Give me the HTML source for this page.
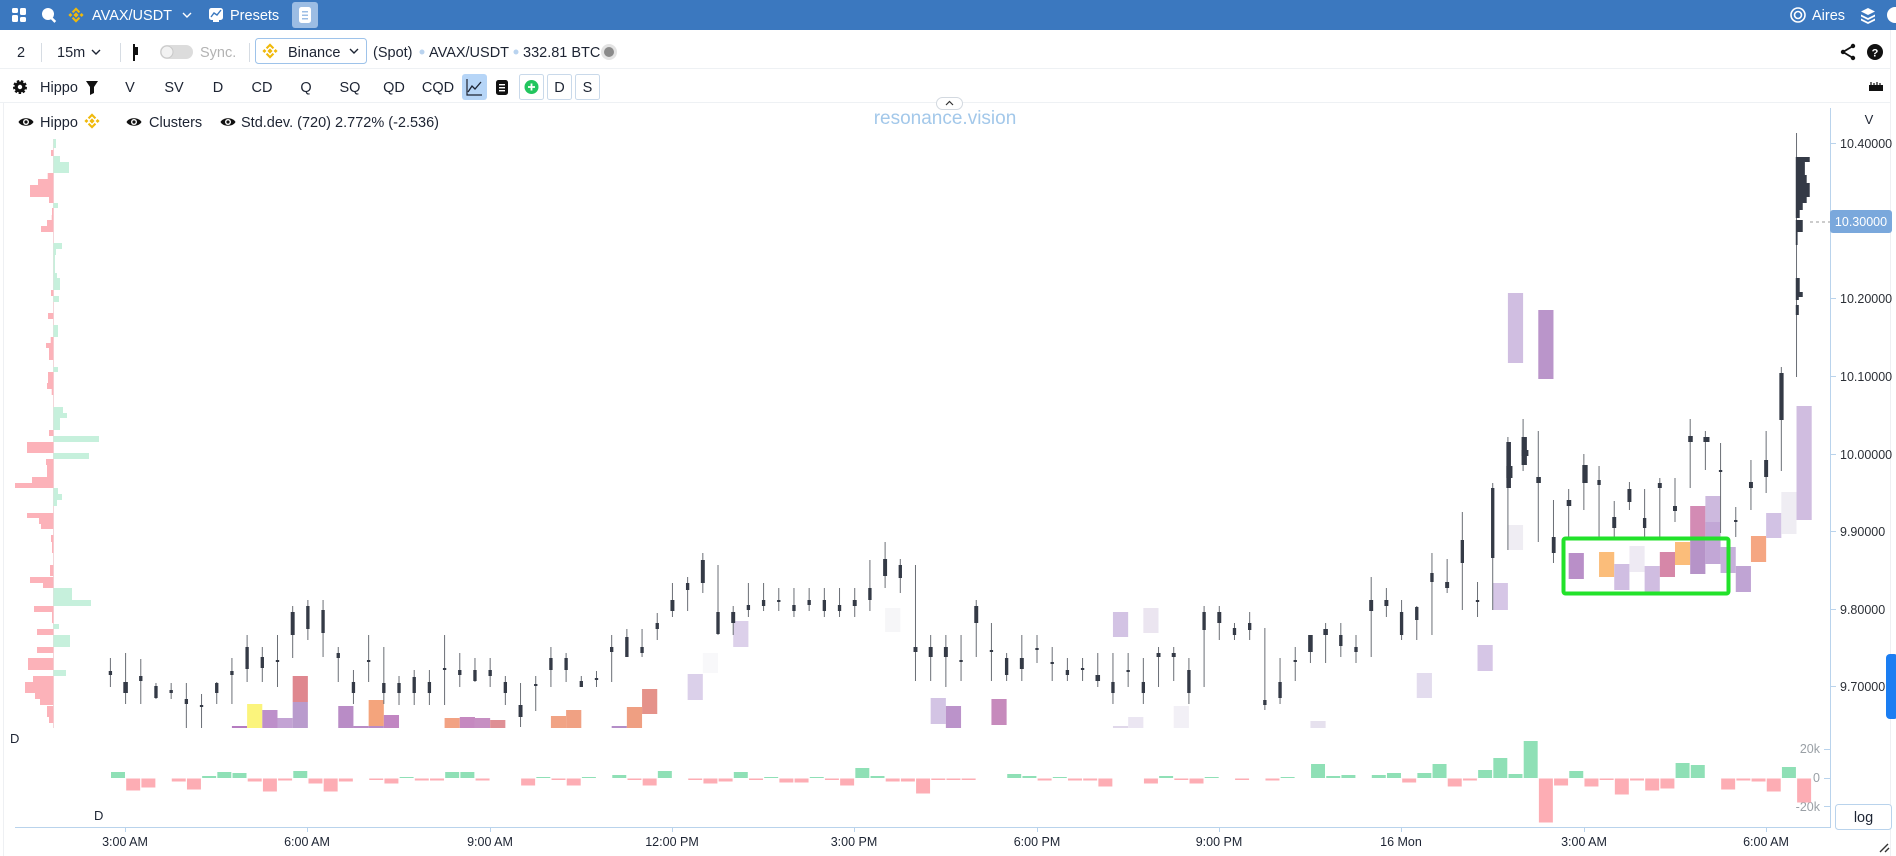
<!DOCTYPE html>
<html><head><meta charset="utf-8"><title>AVAX/USDT chart</title>
<style>
html,body{margin:0;padding:0;background:#fff;}
body{width:1896px;height:856px;overflow:hidden;position:relative;}
svg text{font-family:"Liberation Sans",sans-serif;}
</style></head>
<body>
<svg width="1896" height="856" viewBox="0 0 1896 856" xmlns="http://www.w3.org/2000/svg" style="position:absolute;left:0;top:0">
<defs>
<g id="bnb">
 <path d="M0-2.6L2.6 0 0 2.6-2.6 0Z"/>
 <path d="M0-7.6L4.2-3.4 2.7-1.9 0-4.6-2.7-1.9-4.2-3.4Z"/>
 <path d="M0 7.6L4.2 3.4 2.7 1.9 0 4.6-2.7 1.9-4.2 3.4Z"/>
 <path d="M-7.6 0L-5.6-2-3.6 0-5.6 2Z"/>
 <path d="M7.6 0L5.6-2 3.6 0 5.6 2Z"/>
</g>
<g id="eye">
 <path d="M-7.5 0C-5-5 5-5 7.5 0C5 5-5 5-7.5 0Z" fill="#111"/>
 <circle r="3" fill="#fff"/><circle r="1.6" fill="#111"/>
</g>
</defs>

<!-- top bar -->
<rect x="0" y="0" width="1896" height="30" fill="#3b78bf"/>
<g fill="#fff">
 <rect x="12" y="8" width="6" height="5" rx="1.5"/><rect x="20" y="8" width="6" height="7" rx="1.5"/>
 <rect x="12" y="15" width="6" height="7" rx="1.5"/><rect x="20" y="17" width="6" height="5" rx="1.5"/>
 <circle cx="48" cy="14" r="6"/><rect x="52" y="18" width="2.5" height="5" transform="rotate(-45 53 20)"/>
</g>
<use href="#bnb" x="76" y="15" fill="#f0b90b"/>
<text x="92" y="20" font-size="14.5" fill="#fff">AVAX/USDT</text>
<path d="M183 13L187 17 191 13" stroke="#fff" stroke-width="1.4" fill="none"/>
<rect x="209" y="8" width="14" height="12" rx="2.5" fill="#fff"/>
<path d="M211 17L214 13 217 15 221 10" stroke="#3b78bf" stroke-width="1.4" fill="none"/>
<rect x="213" y="20" width="6" height="2" fill="#fff"/>
<text x="230" y="20" font-size="14.5" fill="#fff">Presets</text>
<rect x="292" y="2" width="26" height="26" rx="3" fill="#9cbde4"/>
<rect x="299" y="7" width="12" height="16" rx="2.5" fill="#fff"/>
<rect x="302" y="11" width="6" height="1.5" fill="#9cbde4"/><rect x="302" y="14.5" width="6" height="1.5" fill="#9cbde4"/><rect x="302" y="18" width="6" height="1.5" fill="#9cbde4"/>
<circle cx="1798" cy="15" r="7" fill="none" stroke="#fff" stroke-width="1.6"/>
<circle cx="1798" cy="15" r="3.5" fill="none" stroke="#fff" stroke-width="1.6"/>
<text x="1812" y="20" font-size="14.5" fill="#fff">Aires</text>
<g fill="#fff"><path d="M1868 8L1875 11.5 1868 15 1861 11.5Z"/><path d="M1861 14.5L1868 18 1875 14.5 1875 16.5 1868 20 1861 16.5Z"/><path d="M1861 18.5L1868 22 1875 18.5 1875 20.5 1868 24 1861 20.5Z"/></g>
<circle cx="1895" cy="15" r="8" fill="#fff"/>

<!-- row 2 -->
<text x="17" y="57" font-size="14.5" fill="#1d2433">2</text>
<rect x="41" y="43" width="1" height="19" fill="#d6dce3"/>
<text x="57" y="57" font-size="14.5" fill="#1d2433">15m</text>
<path d="M92 50L96 54 100 50" stroke="#1d2433" stroke-width="1.4" fill="none"/>
<rect x="120" y="43" width="1" height="19" fill="#d6dce3"/>
<rect x="133" y="44" width="2" height="17" fill="#111"/><rect x="133" y="47" width="5" height="8" fill="#111"/>
<rect x="160" y="45" width="33" height="14" rx="7" fill="#dcdcdc"/>
<circle cx="167" cy="52" r="6" fill="#f2f2f2" stroke="#c8c8c8"/>
<text x="200" y="57" font-size="14.5" fill="#b3b3b3">Sync.</text>
<rect x="249" y="43" width="1" height="19" fill="#d6dce3"/>
<rect x="255.5" y="38.5" width="111" height="25" rx="3" fill="#fff" stroke="#9ec3ea"/>
<use href="#bnb" x="270" y="51" fill="#f0b90b"/>
<text x="288" y="57" font-size="14.5" fill="#1d2433">Binance</text>
<path d="M350 49L354 53 358 49" stroke="#1d2433" stroke-width="1.4" fill="none"/>
<text x="373" y="57" font-size="14.5" fill="#1d2433">(Spot)</text>
<circle cx="422" cy="52" r="2.5" fill="#b9d3ef"/>
<text x="429" y="57" font-size="14.5" fill="#1d2433">AVAX/USDT</text>
<circle cx="516" cy="52" r="2.5" fill="#b9d3ef"/>
<text x="523" y="57" font-size="14.5" fill="#1d2433">332.81 BTC</text>
<circle cx="609" cy="52" r="8" fill="#e3e3e3"/><circle cx="609" cy="52" r="5" fill="#8a8a8a"/>
<g stroke="#111" stroke-width="1.8"><path d="M1853 46L1843 52 1853 58" fill="none"/></g>
<g fill="#111"><circle cx="1853" cy="46" r="2.2"/><circle cx="1843" cy="52" r="2.2"/><circle cx="1853" cy="58" r="2.2"/></g>
<circle cx="1875" cy="52" r="8" fill="#111"/>
<text x="1875" y="56.5" font-size="11" font-weight="bold" fill="#fff" text-anchor="middle">?</text>
<rect x="0" y="68" width="1891" height="1" fill="#eef1f4"/>

<!-- row 3 -->
<circle cx="20" cy="87" r="5.5" fill="#111" stroke="#111" stroke-width="3" stroke-dasharray="2.2 1.6"/>
<circle cx="20" cy="87" r="2.2" fill="#fff"/>
<text x="40" y="92" font-size="14.5" fill="#1d2433">Hippo</text>
<path d="M86 81H98L94 87V93L90 95V87Z" fill="#111"/>
<g font-size="14.5" fill="#1d2433" text-anchor="middle">
<text x="130" y="92">V</text><text x="174" y="92">SV</text><text x="218" y="92">D</text><text x="262" y="92">CD</text>
<text x="306" y="92">Q</text><text x="350" y="92">SQ</text><text x="394" y="92">QD</text><text x="438" y="92">CQD</text>
</g>
<rect x="462" y="74" width="25" height="26" rx="3" fill="#b6d5f7"/>
<path d="M467 79V95H482" stroke="#1d2433" stroke-width="1.2" fill="none"/>
<path d="M468 92L472 86 475 89 481 82" stroke="#1d2433" stroke-width="1.3" fill="none"/>
<rect x="496" y="80" width="12" height="15" rx="2.5" fill="#111"/>
<rect x="499" y="84" width="6" height="1.4" fill="#fff"/><rect x="499" y="87" width="6" height="1.4" fill="#fff"/><rect x="499" y="90" width="6" height="1.4" fill="#fff"/>
<rect x="519.5" y="74.5" width="24" height="25" rx="2" fill="#fff" stroke="#c9d9ea"/>
<circle cx="531.5" cy="87" r="7" fill="#22c55e"/>
<path d="M531.5 83.5V90.5M528 87H535" stroke="#fff" stroke-width="1.8"/>
<rect x="547.5" y="74.5" width="24" height="25" rx="2" fill="#fff" stroke="#c9d9ea"/>
<text x="559.5" y="92" font-size="14.5" fill="#1d2433" text-anchor="middle">D</text>
<rect x="575.5" y="74.5" width="24" height="25" rx="2" fill="#fff" stroke="#c9d9ea"/>
<text x="587.5" y="92" font-size="14.5" fill="#1d2433" text-anchor="middle">S</text>
<path d="M1869 85H1883V91H1869Z" fill="#111"/><path d="M1871 82V85M1874 83V85M1877 82V85M1880 83V85" stroke="#111" stroke-width="1.2"/>
<rect x="0" y="102" width="1891" height="1" fill="#eef1f4"/>
<rect x="3" y="103" width="1" height="753" fill="#eef0f3"/>
<rect x="1890" y="30" width="1" height="826" fill="#eef0f3"/>

<!-- legend -->
<use href="#eye" x="26" y="122"/>
<text x="40" y="127" font-size="14.5" fill="#1d2433">Hippo</text>
<use href="#bnb" x="92" y="121" fill="#f0b90b"/>
<use href="#eye" x="134" y="122"/>
<text x="149" y="127" font-size="14.5" fill="#1d2433">Clusters</text>
<use href="#eye" x="228" y="122"/>
<text x="241" y="127" font-size="14.5" fill="#1d2433">Std.dev. (720) 2.772% (-2.536)</text>

<!-- watermark + collapse pill -->
<text x="945" y="124" font-size="19" fill="#a3c8ea" text-anchor="middle">resonance.vision</text>
<rect x="936.5" y="97.5" width="26" height="12" rx="6" fill="#fff" stroke="#d3d9e0"/>
<path d="M946 105L949.5 101.5 953 105" stroke="#333" stroke-width="1.2" fill="none"/>

<!-- axes -->
<rect x="1830" y="108" width="1" height="720" fill="#b9d3ec"/>
<rect x="15" y="827" width="1816" height="1" fill="#b9d3ec"/>
<text x="1869" y="124" font-size="13" fill="#1d2433" text-anchor="middle">V</text>
<g fill="#b9d3ec">
<rect x="1830" y="143" width="6" height="1"/><rect x="1830" y="298" width="6" height="1"/><rect x="1830" y="376" width="6" height="1"/>
<rect x="1830" y="454" width="6" height="1"/><rect x="1830" y="531" width="6" height="1"/><rect x="1830" y="609" width="6" height="1"/><rect x="1830" y="686" width="6" height="1"/>
<rect x="1824" y="749" width="6" height="1"/><rect x="1824" y="778" width="6" height="1"/><rect x="1824" y="806" width="6" height="1"/>
</g>
<g font-size="12.5" fill="#2b2f36">
<text x="1840" y="148">10.40000</text>
<text x="1840" y="303">10.20000</text>
<text x="1840" y="381">10.10000</text>
<text x="1840" y="459">10.00000</text>
<text x="1840" y="536">9.90000</text>
<text x="1840" y="614">9.80000</text>
<text x="1840" y="691">9.70000</text>
</g>
<path d="M1810 222H1830" stroke="#999" stroke-dasharray="3 3"/>
<rect x="1830" y="210" width="62" height="23" rx="3" fill="#7aa8dc"/>
<text x="1861" y="226" font-size="12.5" fill="#fff" text-anchor="middle">10.30000</text>
<g font-size="12.5" fill="#9aa0a6" text-anchor="end">
<text x="1820" y="753">20k</text><text x="1820" y="782">0</text><text x="1820" y="811">-20k</text>
</g>
<rect x="1835.5" y="804.5" width="56" height="25" rx="3" fill="#fff" stroke="#b9d3ec"/>
<text x="1863.5" y="822" font-size="14.5" fill="#1d2433" text-anchor="middle">log</text>
<rect x="1886" y="654" width="12" height="65" rx="4" fill="#1b7ef2"/>
<path d="M1880 852L1888 844M1885 852L1889 848" stroke="#333" stroke-width="1.4"/>
<g fill="#b9d3ec">
<rect x="125" y="827" width="1" height="5"/><rect x="307" y="827" width="1" height="5"/><rect x="490" y="827" width="1" height="5"/>
<rect x="672" y="827" width="1" height="5"/><rect x="854" y="827" width="1" height="5"/><rect x="1037" y="827" width="1" height="5"/>
<rect x="1219" y="827" width="1" height="5"/><rect x="1401" y="827" width="1" height="5"/><rect x="1584" y="827" width="1" height="5"/><rect x="1766" y="827" width="1" height="5"/>
</g>
<g font-size="12.5" fill="#1d2433" text-anchor="middle">
<text x="125" y="846">3:00 AM</text><text x="307" y="846">6:00 AM</text><text x="490" y="846">9:00 AM</text>
<text x="672" y="846">12:00 PM</text><text x="854" y="846">3:00 PM</text><text x="1037" y="846">6:00 PM</text>
<text x="1219" y="846">9:00 PM</text><text x="1401" y="846">16 Mon</text><text x="1584" y="846">3:00 AM</text><text x="1766" y="846">6:00 AM</text>
</g>
<text x="10" y="743" font-size="13" fill="#1d2433">D</text>
<text x="94" y="820" font-size="13" fill="#1d2433">D</text>

<!-- left profile -->
<rect x="53" y="139" width="1" height="589" fill="#f3d6da"/>
<g fill="#fcb2b9">
<rect x="51" y="150" width="2.3" height="6"/><rect x="47.7" y="173" width="5.6" height="6"/><rect x="38" y="179" width="15.3" height="6"/>
<rect x="30" y="185" width="23.3" height="12"/><rect x="49" y="197" width="4.3" height="6"/><rect x="52" y="208" width="1.3" height="7"/>
<rect x="51.7" y="215" width="1.6" height="5"/><rect x="47" y="220" width="6.3" height="6"/><rect x="41" y="226" width="12.3" height="6"/>
<rect x="51" y="290" width="2.3" height="6"/><rect x="48" y="313" width="5.3" height="6"/><rect x="50.7" y="337" width="2.6" height="6"/>
<rect x="46" y="343" width="7.3" height="5"/><rect x="49" y="348" width="4.3" height="12"/><rect x="48" y="372" width="5.3" height="11"/>
<rect x="47" y="383" width="6.3" height="6"/><rect x="51.7" y="389" width="1.6" height="6"/><rect x="49" y="430" width="4.3" height="6"/>
<rect x="27" y="442" width="26.3" height="11"/><rect x="46" y="459" width="7.3" height="6"/><rect x="47" y="465" width="6.3" height="12"/>
<rect x="32" y="477" width="21.3" height="6"/><rect x="15" y="483" width="38.3" height="5"/><rect x="27" y="513" width="26.3" height="5"/>
<rect x="39" y="518" width="14.3" height="6"/><rect x="41" y="524" width="12.3" height="5"/><rect x="51" y="535" width="2.3" height="7"/>
<rect x="52" y="542" width="1.3" height="11"/><rect x="50" y="565" width="3.3" height="11"/><rect x="30" y="577" width="23.3" height="6"/>
<rect x="43" y="583" width="10.3" height="5"/><rect x="34" y="606" width="19.3" height="6"/><rect x="52" y="612" width="1.3" height="11"/>
<rect x="37" y="629" width="16.3" height="6"/><rect x="37" y="647" width="16.3" height="6"/><rect x="28" y="658" width="25.3" height="12"/>
<rect x="33" y="676" width="20.3" height="6"/><rect x="25" y="682" width="28.3" height="11"/><rect x="35" y="693" width="18.3" height="6"/>
<rect x="40" y="699" width="13.3" height="6"/><rect x="47" y="706" width="6.3" height="11"/><rect x="49" y="717" width="4.3" height="6"/>
</g>
<g fill="#c6f0dc">
<rect x="53.3" y="139" width="2.7" height="9"/><rect x="53.3" y="156" width="6.7" height="6"/><rect x="53.3" y="162" width="15.7" height="11"/>
<rect x="53.3" y="203" width="4.7" height="5"/><rect x="53.3" y="243" width="8.7" height="6"/><rect x="53.3" y="249" width="2.7" height="6"/>
<rect x="53.3" y="255" width="1.7" height="18"/><rect x="53.3" y="273" width="3.7" height="5"/><rect x="53.3" y="278" width="6.7" height="12"/>
<rect x="53.3" y="296" width="5.7" height="6"/><rect x="53.3" y="325" width="4.7" height="12"/><rect x="53.3" y="367" width="4.7" height="5"/>
<rect x="53.3" y="407" width="9.7" height="6"/><rect x="53.3" y="413" width="13.7" height="5"/><rect x="53.3" y="418" width="6.7" height="12"/>
<rect x="53.3" y="436" width="45.7" height="6"/><rect x="53.3" y="453" width="35.7" height="6"/><rect x="53.3" y="488" width="4.7" height="6"/>
<rect x="53.3" y="494" width="8.7" height="6"/><rect x="53.3" y="500" width="3.7" height="6"/><rect x="53.3" y="588" width="18.7" height="12"/>
<rect x="53.3" y="600" width="37.7" height="6"/><rect x="53.3" y="624" width="5.7" height="5"/><rect x="53.3" y="635" width="16.7" height="12"/>
<rect x="53.3" y="670" width="12.7" height="6"/>
</g>

<!-- chart (x unit = one 15m bar) -->
<svg x="110.4" y="0" width="1716.5" height="856" viewBox="0 0 113 856" preserveAspectRatio="none" overflow="visible">
<!-- clusters -->
<rect x="8" y="726" width="1" height="2" fill="#b57cc0"/>
<rect x="9" y="704" width="1" height="24" fill="#fbf47c"/>
<rect x="10" y="710" width="1" height="18" fill="#bd8fca"/>
<rect x="11" y="718" width="1" height="10" fill="#c3a3d4"/>
<rect x="12" y="676" width="1" height="26" fill="#df878f"/><rect x="12" y="702" width="1" height="26" fill="#b99bcd"/>
<rect x="15" y="706" width="1" height="22" fill="#b98cc6"/>
<rect x="16" y="726" width="1" height="2" fill="#b98cc6"/>
<rect x="17" y="700" width="1" height="26" fill="#f4a47c"/><rect x="17" y="726" width="1" height="2" fill="#b98cc6"/>
<rect x="18" y="715" width="1" height="13" fill="#c186c2"/>
<rect x="22" y="718" width="1" height="10" fill="#f2a283"/>
<rect x="23" y="717" width="1" height="11" fill="#c589c0"/>
<rect x="24" y="718" width="1" height="10" fill="#c68fc2"/>
<rect x="25" y="720" width="1" height="8" fill="#df8f95"/>
<rect x="29" y="716" width="1" height="12" fill="#f1a384"/>
<rect x="30" y="710" width="1" height="18" fill="#f0a183"/>
<rect x="33" y="726" width="1" height="2" fill="#b48ec8"/>
<rect x="34" y="707" width="1" height="21" fill="#ef9f82"/>
<rect x="35" y="689" width="1" height="25" fill="#e5928a"/>
<rect x="38" y="674" width="1" height="26" fill="#dbd0ea"/>
<rect x="39" y="653" width="1" height="20" fill="#f8f8fa"/>
<rect x="41" y="621" width="1" height="26" fill="#dcd0ea"/>
<rect x="51" y="608" width="1" height="24" fill="#f6f6f8"/>
<rect x="54" y="698" width="1" height="26" fill="#d3c4e4"/>
<rect x="55" y="706" width="1" height="22" fill="#bb93ca"/>
<rect x="58" y="699" width="1" height="26" fill="#c68abc"/>
<rect x="66" y="612" width="1" height="25" fill="#d3c3e4"/><rect x="66" y="726" width="1" height="2" fill="#e0d8ea"/>
<rect x="67" y="717" width="1" height="11" fill="#ebe6f2"/>
<rect x="68" y="608" width="1" height="25" fill="#ebe5f0"/>
<rect x="70" y="706" width="1" height="22" fill="#f2f0f6"/>
<rect x="79" y="721" width="1" height="7" fill="#e6e1ee"/>
<rect x="86" y="673" width="1" height="25" fill="#e3dcee"/>
<rect x="90" y="645" width="1" height="26" fill="#d6c6e6"/>
<rect x="91" y="583" width="1" height="27" fill="#d6c6e6"/>
<rect x="92" y="293" width="1" height="70" fill="#d0bee1"/><rect x="92" y="525" width="1" height="25" fill="#efedf3"/>
<rect x="94" y="310" width="1" height="69" fill="#ba95ca"/>
<rect x="96" y="553" width="1" height="26" fill="#b98fc8"/>
<rect x="98" y="552" width="1" height="25" fill="#fbbd7a"/>
<rect x="99" y="564" width="1" height="26" fill="#d0bee2"/>
<rect x="100" y="546" width="1" height="26" fill="#eeeaf3"/>
<rect x="101" y="566" width="1" height="26" fill="#d0bde1"/>
<rect x="102" y="552" width="1" height="25" fill="#d687a8"/>
<rect x="103" y="542" width="1" height="23" fill="#fbbd7a"/>
<rect x="104" y="506" width="1" height="32" fill="#d38bb4"/><rect x="104" y="538" width="1" height="36" fill="#b693c8"/>
<rect x="105" y="496" width="1" height="26" fill="#cdb9de"/><rect x="105" y="522" width="1" height="42" fill="#c2a7d6"/>
<rect x="106" y="547" width="1" height="26" fill="#c6b0da"/>
<rect x="107" y="566" width="1" height="26" fill="#c0a4d4"/>
<rect x="108" y="536" width="1" height="26" fill="#f5a682"/>
<rect x="109" y="513" width="1" height="25" fill="#d2c2e4"/>
<rect x="110" y="492" width="1" height="42" fill="#efedf3"/>
<rect x="111" y="406" width="1" height="114" fill="#d0bde0"/>

<!-- wicks -->
<path stroke="#6b6f76" stroke-width="1" vector-effect="non-scaling-stroke" fill="none" d="
M0 658V687M1 653V704M2 659V704M3 683V699M4 683V699M5 683V728M6 694V728M7 682V704M8 658V704M9 635V682
M10 647V682M11 635V687M12 606V658M13 600V640M14 600V657M15 647V682M16 670V704M17 635V682M18 647V704M19 676V705
M20 670V705M21 670V705M22 635V705M23 653V687M24 658V682M25 658V687M26 676V705M27 683V727M28 676V711M29 647V687
M30 653V682M31 676V687M32 671V687M33 635V682M34 629V657M35 629V657M36 613V640M37 583V617M38 577V611M39 553V593
M40 565V635M41 606V635M42 583V617M43 583V611M44 588V611M45 588V617M46 588V611M47 588V617M48 588V617M49 588V617
M50 560V611M51 542V588M52 559V593M53 565V681M54 635V681M55 635V687M56 635V681M57 600V657M58 623V681M59 653V681
M60 635V681M61 635V663M62 647V681M63 658V681M64 658V681M65 653V687M66 653V704M67 653V687M68 658V704M69 647V687
M70 647V681M71 658V704M72 606V687M73 606V640M74 623V640M75 612V640M76 628V710M77 658V704M78 647V681M79 635V663
M80 623V663M81 623V657M82 635V663M83 577V657M84 588V617M85 600V640M86 606V640M87 553V635M88 559V593M89 512V610
M90 582V617M91 483V610M92 437V550M93 419V471M94 431V542M95 500V563M96 489V537M97 454V510M98 466V537M99 501V537
M100 482V510M101 489V537M102 478V537M103 478V522M104 419V488M105 431V470M106 443V533M107 507V537M108 460V510M109 431V493
M110 367V471M111 133V377"/>

<!-- bodies -->
<g fill="#343a46">
<rect x="-0.11" y="671" width="0.22" height="4"/><rect x="0.85" y="682" width="0.3" height="11"/><rect x="1.89" y="676" width="0.22" height="5"/>
<rect x="2.89" y="686" width="0.22" height="12"/><rect x="3.89" y="690" width="0.22" height="3"/><rect x="4.89" y="699" width="0.22" height="5"/>
<rect x="5.89" y="705" width="0.22" height="2"/><rect x="6.89" y="683" width="0.22" height="10"/><rect x="7.89" y="671" width="0.22" height="4"/>
<rect x="8.89" y="647" width="0.22" height="22"/><rect x="9.89" y="657" width="0.22" height="11"/><rect x="10.89" y="660" width="0.22" height="2"/>
<rect x="11.87" y="612" width="0.26" height="23"/><rect x="12.89" y="606" width="0.22" height="23"/><rect x="13.89" y="610" width="0.22" height="23"/>
<rect x="14.89" y="653" width="0.22" height="5"/><rect x="15.89" y="682" width="0.22" height="11"/><rect x="16.89" y="660" width="0.22" height="2"/>
<rect x="17.89" y="683" width="0.22" height="10"/><rect x="18.89" y="683" width="0.22" height="10"/><rect x="19.89" y="677" width="0.22" height="16"/>
<rect x="20.89" y="682" width="0.22" height="11"/><rect x="21.89" y="668" width="0.22" height="2"/><rect x="22.89" y="670" width="0.22" height="5"/>
<rect x="23.89" y="670" width="0.22" height="11"/><rect x="24.89" y="670" width="0.22" height="6"/><rect x="25.89" y="682" width="0.22" height="11"/>
<rect x="26.87" y="705" width="0.26" height="12"/><rect x="27.89" y="684" width="0.22" height="2"/><rect x="28.89" y="658" width="0.22" height="12"/>
<rect x="29.89" y="658" width="0.22" height="12"/><rect x="30.89" y="681" width="0.22" height="6"/><rect x="31.89" y="678" width="0.22" height="2"/>
<rect x="32.89" y="647" width="0.22" height="5"/><rect x="33.89" y="637" width="0.22" height="20"/><rect x="34.89" y="647" width="0.22" height="6"/>
<rect x="35.89" y="623" width="0.22" height="6"/><rect x="36.87" y="600" width="0.26" height="11"/><rect x="37.89" y="583" width="0.22" height="7"/>
<rect x="38.87" y="560" width="0.26" height="23"/><rect x="39.89" y="612" width="0.22" height="22"/><rect x="40.87" y="612" width="0.26" height="11"/>
<rect x="41.89" y="605" width="0.22" height="5"/><rect x="42.89" y="600" width="0.22" height="6"/><rect x="43.89" y="600" width="0.22" height="2"/>
<rect x="44.89" y="605" width="0.22" height="6"/><rect x="45.89" y="600" width="0.22" height="5"/><rect x="46.89" y="600" width="0.22" height="11"/>
<rect x="47.89" y="605" width="0.22" height="6"/><rect x="48.87" y="600" width="0.26" height="6"/><rect x="49.89" y="588" width="0.22" height="12"/>
<rect x="50.87" y="559" width="0.26" height="17"/><rect x="51.89" y="565" width="0.22" height="13"/><rect x="52.87" y="647" width="0.26" height="5"/>
<rect x="53.87" y="647" width="0.26" height="10"/><rect x="54.87" y="647" width="0.26" height="10"/><rect x="55.89" y="660" width="0.22" height="2"/>
<rect x="56.87" y="606" width="0.26" height="17"/><rect x="57.89" y="650" width="0.22" height="2"/><rect x="58.89" y="658" width="0.22" height="17"/>
<rect x="59.87" y="658" width="0.26" height="11"/><rect x="60.89" y="648" width="0.22" height="2"/><rect x="61.89" y="662" width="0.22" height="2"/>
<rect x="62.89" y="670" width="0.22" height="5"/><rect x="63.89" y="668" width="0.22" height="2"/><rect x="64.85" y="675" width="0.3" height="6"/>
<rect x="65.89" y="682" width="0.22" height="11"/><rect x="66.89" y="670" width="0.22" height="2"/><rect x="67.89" y="682" width="0.22" height="11"/>
<rect x="68.87" y="653" width="0.26" height="4"/><rect x="69.87" y="653" width="0.26" height="4"/><rect x="70.89" y="670" width="0.22" height="23"/>
<rect x="71.89" y="612" width="0.22" height="18"/><rect x="72.87" y="612" width="0.26" height="11"/><rect x="73.89" y="628" width="0.22" height="7"/>
<rect x="74.89" y="623" width="0.22" height="7"/><rect x="75.89" y="700" width="0.22" height="5"/><rect x="76.89" y="682" width="0.22" height="16"/>
<rect x="77.89" y="660" width="0.22" height="2"/><rect x="78.85" y="635" width="0.3" height="17"/><rect x="79.85" y="629" width="0.3" height="6"/>
<rect x="80.89" y="635" width="0.22" height="11"/><rect x="81.89" y="647" width="0.22" height="5"/><rect x="82.87" y="600" width="0.26" height="11"/>
<rect x="83.87" y="600" width="0.26" height="6"/><rect x="84.89" y="612" width="0.22" height="23"/><rect x="85.89" y="607" width="0.22" height="13"/>
<rect x="86.89" y="573" width="0.22" height="9"/><rect x="87.87" y="582" width="0.26" height="6"/><rect x="88.89" y="540" width="0.22" height="23"/>
<rect x="89.89" y="600" width="0.22" height="2"/><rect x="90.89" y="488" width="0.22" height="70"/>
<rect x="91.9" y="442" width="0.3" height="46"/><rect x="91.9" y="466" width="0.4" height="12"/>
<rect x="92.9" y="437" width="0.35" height="28"/><rect x="92.9" y="450" width="0.45" height="6"/>
<rect x="93.87" y="477" width="0.3" height="6"/><rect x="94.89" y="537" width="0.25" height="16"/><rect x="95.87" y="500" width="0.3" height="6"/>
<rect x="96.9" y="465" width="0.35" height="18"/><rect x="97.89" y="480" width="0.22" height="5"/><rect x="98.87" y="517" width="0.26" height="11"/>
<rect x="99.87" y="489" width="0.26" height="13"/><rect x="100.89" y="518" width="0.22" height="10"/><rect x="101.87" y="483" width="0.26" height="5"/>
<rect x="102.87" y="506" width="0.26" height="5"/><rect x="103.87" y="436" width="0.3" height="6"/><rect x="104.87" y="437" width="0.4" height="5"/>
<rect x="105.89" y="470" width="0.22" height="2"/><rect x="106.89" y="520" width="0.22" height="2"/><rect x="107.87" y="482" width="0.26" height="6"/>
<rect x="108.87" y="460" width="0.26" height="17"/><rect x="109.87" y="373" width="0.28" height="47"/>
<rect x="110.95" y="157" width="0.92" height="5"/><rect x="110.95" y="162" width="0.6" height="13"/><rect x="110.95" y="175" width="0.72" height="8"/>
<rect x="110.95" y="183" width="0.92" height="14"/><rect x="110.95" y="197" width="0.72" height="6"/><rect x="110.95" y="203" width="0.46" height="7"/>
<rect x="110.95" y="210" width="0.26" height="8"/><rect x="110.95" y="220" width="0.46" height="12"/><rect x="110.95" y="232" width="0.12" height="13"/>
<rect x="110.95" y="278" width="0.26" height="14"/><rect x="110.95" y="292" width="0.46" height="5"/><rect x="110.95" y="297" width="0.2" height="3"/>
<rect x="110.95" y="305" width="0.2" height="10"/>
</g>

<!-- lower pane -->
<g fill="#8fe0b6">
<rect x="0.04" y="772" width="0.92" height="6"/><rect x="6.04" y="776" width="0.92" height="2"/><rect x="7.04" y="772" width="0.92" height="6"/>
<rect x="8.04" y="773" width="0.92" height="5"/><rect x="12.04" y="771" width="0.92" height="7"/><rect x="19.04" y="777" width="0.92" height="1"/>
<rect x="22.04" y="772" width="0.92" height="6"/><rect x="23.04" y="772" width="0.92" height="6"/><rect x="28.04" y="777" width="0.92" height="1"/>
<rect x="31.04" y="777" width="0.92" height="1"/><rect x="33.04" y="775" width="0.92" height="3"/><rect x="36.04" y="771" width="0.92" height="7"/>
<rect x="41.04" y="772" width="0.92" height="6"/><rect x="43.04" y="777" width="0.92" height="1"/><rect x="46.04" y="777" width="0.92" height="1"/>
<rect x="49.04" y="768" width="0.92" height="10"/><rect x="50.04" y="776" width="0.92" height="2"/><rect x="59.04" y="774" width="0.92" height="4"/>
<rect x="60.04" y="776" width="0.92" height="2"/><rect x="62.04" y="777" width="0.92" height="1"/><rect x="69.04" y="776" width="0.92" height="2"/>
<rect x="72.04" y="777" width="0.92" height="1"/><rect x="77.04" y="777" width="0.92" height="1"/><rect x="79.04" y="764" width="0.92" height="14"/>
<rect x="80.04" y="776" width="0.92" height="2"/><rect x="81.04" y="775" width="0.92" height="3"/><rect x="83.04" y="775" width="0.92" height="3"/>
<rect x="84.04" y="773" width="0.92" height="5"/><rect x="86.04" y="773" width="0.92" height="5"/><rect x="87.04" y="764" width="0.92" height="14"/>
<rect x="90.04" y="770" width="0.92" height="8"/><rect x="91.04" y="758" width="0.92" height="20"/><rect x="92.04" y="774" width="0.92" height="4"/>
<rect x="93.04" y="741" width="0.92" height="37"/><rect x="96.04" y="771" width="0.92" height="7"/><rect x="103.04" y="763" width="0.92" height="15"/>
<rect x="104.04" y="765" width="0.92" height="13"/><rect x="110.04" y="767" width="0.92" height="11"/>
</g>
<g fill="#fdadb4">
<rect x="1.04" y="778.5" width="0.92" height="12"/><rect x="2.04" y="778.5" width="0.92" height="9"/><rect x="4.04" y="778.5" width="0.92" height="3"/>
<rect x="5.04" y="778.5" width="0.92" height="11"/><rect x="9.04" y="778.5" width="0.92" height="3"/><rect x="10.04" y="778.5" width="0.92" height="13"/>
<rect x="11.04" y="778.5" width="0.92" height="2"/><rect x="13.04" y="778.5" width="0.92" height="5"/><rect x="14.04" y="778.5" width="0.92" height="13"/>
<rect x="15.04" y="778.5" width="0.92" height="3"/><rect x="17.04" y="778.5" width="0.92" height="1.5"/><rect x="18.04" y="778.5" width="0.92" height="5"/>
<rect x="20.04" y="778.5" width="0.92" height="2"/><rect x="21.04" y="778.5" width="0.92" height="2"/><rect x="24.04" y="778.5" width="0.92" height="2"/>
<rect x="27.04" y="778.5" width="0.92" height="7"/><rect x="29.04" y="778.5" width="0.92" height="1.5"/><rect x="30.04" y="778.5" width="0.92" height="7"/>
<rect x="34.04" y="778.5" width="0.92" height="1.5"/><rect x="35.04" y="778.5" width="0.92" height="7"/><rect x="38.04" y="778.5" width="0.92" height="1.5"/>
<rect x="39.04" y="778.5" width="0.92" height="5"/><rect x="40.04" y="778.5" width="0.92" height="3"/><rect x="42.04" y="778.5" width="0.92" height="1.5"/>
<rect x="44.04" y="778.5" width="0.92" height="4"/><rect x="45.04" y="778.5" width="0.92" height="4"/><rect x="47.04" y="778.5" width="0.92" height="1.5"/>
<rect x="48.04" y="778.5" width="0.92" height="7"/><rect x="51.04" y="778.5" width="0.92" height="3"/><rect x="52.04" y="778.5" width="0.92" height="3"/>
<rect x="53.04" y="778.5" width="0.92" height="15"/><rect x="54.04" y="778.5" width="0.92" height="1.5"/><rect x="55.04" y="778.5" width="0.92" height="1.5"/>
<rect x="56.04" y="778.5" width="0.92" height="1.5"/><rect x="61.04" y="778.5" width="0.92" height="2"/><rect x="63.04" y="778.5" width="0.92" height="2"/>
<rect x="64.04" y="778.5" width="0.92" height="2"/><rect x="65.04" y="778.5" width="0.92" height="8"/><rect x="68.04" y="778.5" width="0.92" height="5"/>
<rect x="70.04" y="778.5" width="0.92" height="1.5"/><rect x="71.04" y="778.5" width="0.92" height="5"/><rect x="74.04" y="778.5" width="0.92" height="1.5"/>
<rect x="76.04" y="778.5" width="0.92" height="2"/><rect x="85.04" y="778.5" width="0.92" height="4"/><rect x="88.04" y="778.5" width="0.92" height="8"/>
<rect x="89.04" y="778.5" width="0.92" height="2"/><rect x="94.04" y="778.5" width="0.92" height="44"/><rect x="95.04" y="778.5" width="0.92" height="7"/>
<rect x="97.04" y="778.5" width="0.92" height="8"/><rect x="98.04" y="778.5" width="0.92" height="1.5"/><rect x="99.04" y="778.5" width="0.92" height="16"/>
<rect x="100.04" y="778.5" width="0.92" height="2"/><rect x="101.04" y="778.5" width="0.92" height="12"/><rect x="102.04" y="778.5" width="0.92" height="10"/>
<rect x="106.04" y="778.5" width="0.92" height="11"/><rect x="107.04" y="778.5" width="0.92" height="2"/><rect x="108.04" y="778.5" width="0.92" height="3"/>
<rect x="109.04" y="778.5" width="0.92" height="13"/><rect x="111.04" y="778.5" width="0.92" height="24"/>
</g>
</svg>

<!-- highlight box -->
<rect x="1563.5" y="538.5" width="165" height="55" rx="2" fill="none" stroke="#22e22a" stroke-width="4"/>
</svg>
</body></html>
